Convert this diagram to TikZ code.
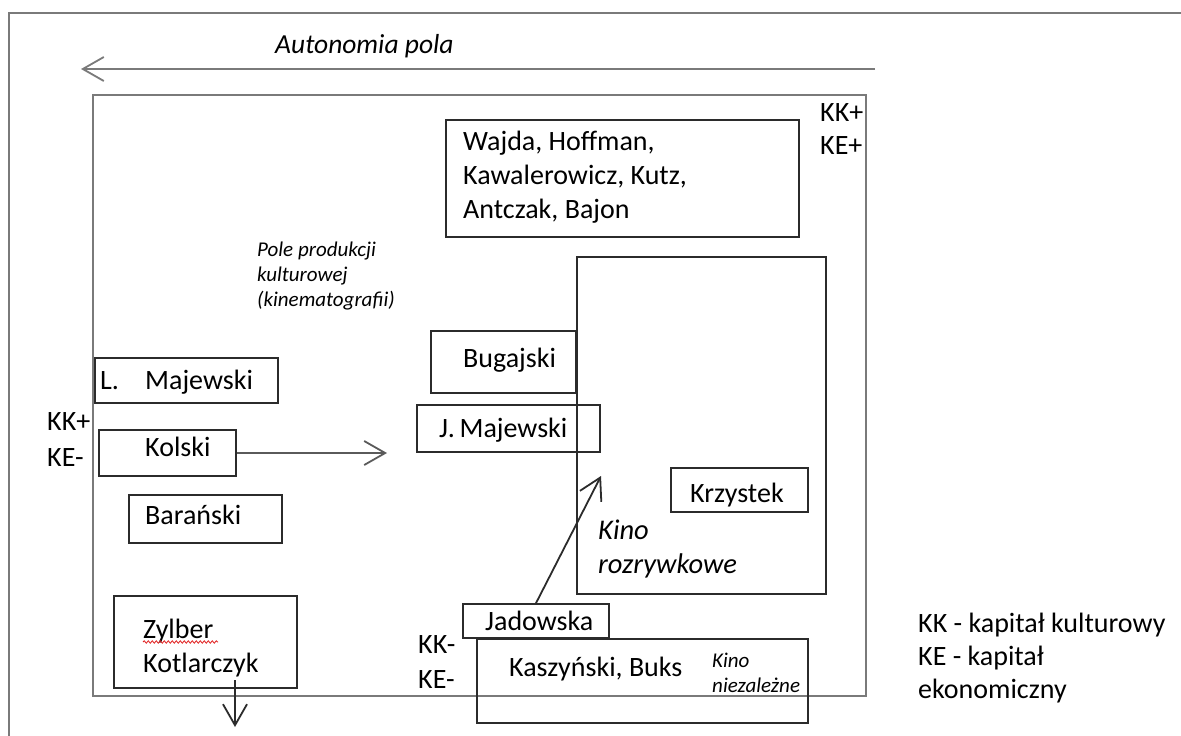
\documentclass[tikz,border=0pt]{standalone}
\usepackage{fontspec}
\setmainfont{Carlito}
\usetikzlibrary{arrows.meta,fit,decorations.pathmorphing}
\definecolor{framegray}{HTML}{7A7A7A}
\definecolor{boxline}{HTML}{2B2B2B}
\definecolor{arrowgray}{HTML}{5A5A5A}
\definecolor{spellred}{HTML}{E02020}
\begin{document}
\begin{tikzpicture}[x=1pt,y=-1pt,
  box/.style={draw=boxline,line width=1.7pt,inner sep=0pt,rectangle},
  txt/.style={anchor=base west,inner sep=0pt,font=\fontsize{28}{34}\selectfont},
  smalltxt/.style={anchor=base west,inner sep=0pt,font=\fontsize{21}{25}\selectfont\itshape},
  barb/.style={-{Straight Barb[length=21pt,width=24pt]}},
  conn/.style={draw=arrowgray,line width=1.8pt,barb}]
\useasboundingbox (0,0) rectangle (1181,736);
% multi-line nodes below are placed by the baseline of their last line

% outer frame (runs off the page on the right and at the bottom)
\draw[framegray,line width=2.6pt] (1190,13) -- (9,13) -- (9,745);

% autonomy axis
\node[txt,font=\fontsize{27.5}{34}\selectfont\itshape] (auto) at (275,53) {Autonomia pola};
\coordinate (axisR) at (875,69);
\coordinate (axisL) at (81,69);
\draw[conn,draw=framegray] (axisR) -- (axisL);

% field of cultural production
\node[box,draw=framegray,line width=2.6pt,fit={(93,95) (866,696)}] (field) {};
\node[txt] (kkTR) at (820,121) {KK+};
\node[txt] (keTR) at (820,154) {KE+};
\node[smalltxt,align=left] (pole) at (257,306) {Pole produkcji\\kulturowej\\(kinematografii)};

% top box
\node[box,fit={(446,120) (799,237)}] (wajda) {};
\node[txt,align=left] (wajdaT) at (463,218) {Wajda, Hoffman,\\Kawalerowicz, Kutz,\\Antczak, Bajon};

% entertainment cinema
\node[box,fit={(577,257) (826,594)}] (rozr) {};
\node[txt,font=\fontsize{28.5}{34}\selectfont\itshape,align=left] (rozrT) at (598,573) {Kino\\rozrywkowe};
\node[box,fit={(671,468) (808,512)}] (krzystek) {};
\node[txt] (krzystekT) at (690,502) {Krzystek};

\node[box,fit={(431,331) (576,393)}] (bugajski) {};
\node[txt] (bugajskiT) at (463,367) {Bugajski};
\node[box,fit={(417,405) (600,452)}] (jmaj) {};
\node[txt] (jmajT) at (439,437) {J.\,Majewski};

% left side
\node[txt] (kkL) at (47,430) {KK+};
\node[txt] (keL) at (47,466) {KE-};
\node[box,fit={(95,358) (278,403)}] (lmaj) {};
\node[txt] (lmajA) at (100,389) {L.};
\node[txt] (lmajB) at (145,389) {Majewski};
\node[box,fit={(99,430) (236,476)}] (kolski) {};
\node[txt] (kolskiT) at (145,456) {Kolski};
\coordinate (kolskiEnd) at (387,453);
\draw[conn] (kolski.east) -- (kolskiEnd);
\node[box,fit={(129,495) (282,543)}] (baranski) {};
\node[txt] (baranskiT) at (145,524) {Barański};

% bottom left
\node[box,fit={(114,596) (297,688)}] (zylber) {};
\node[txt,align=left] (zylberT) at (143,672) {Zylber\\Kotlarczyk};
\draw[spellred,line width=0.8pt,decorate,decoration={snake,amplitude=1.2pt,segment length=4pt}] (143,642) -- (218,642);
\coordinate (zylberFrom) at (235,680);
\coordinate (zylberTo) at (235,727);
\draw[conn,draw=boxline] (zylberFrom) -- (zylberTo);

% independent cinema
\node[txt] (kkB) at (418,653) {KK-};
\node[txt] (keB) at (418,688) {KE-};
\node[box,fit={(477,639) (808,723)}] (indep) {};
\node[txt] (indepT) at (509,676) {Kaszyński, Buks};
\node[smalltxt,align=left] (indepL) at (712,692) {Kino\\niezależne};
\node[box,fit={(463,604) (609,638)}] (jadowska) {};
\node[txt] (jadowskaT) at (485,630) {Jadowska};
\coordinate (jadEnd) at (601,476);
\draw[conn,draw=boxline] (jadowska.north) -- (jadEnd);

% legend
\node[txt,align=left,font=\fontsize{28}{33}\selectfont] (legend) at (918,698) {KK - kapitał kulturowy\\KE - kapitał\\ekonomiczny};
\end{tikzpicture}
\end{document}
